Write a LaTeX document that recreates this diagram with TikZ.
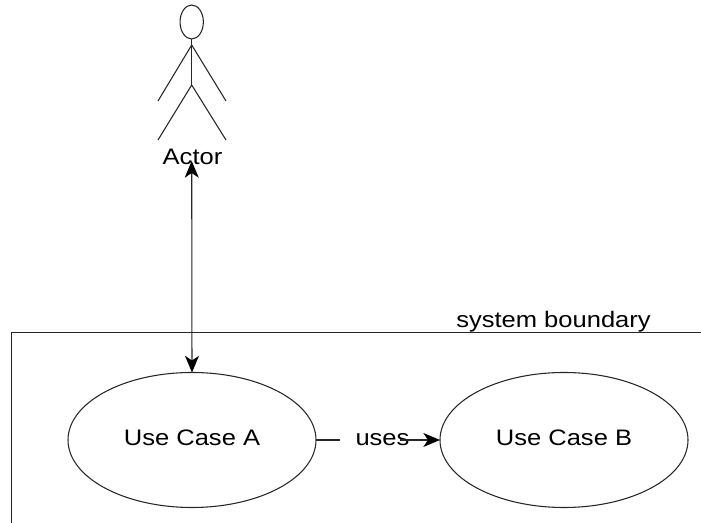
\documentclass[tikz,border=0pt]{standalone}
\usepackage{fontspec}
\setmainfont[FakeStretch=1.14]{Liberation Sans}
\usetikzlibrary{arrows.meta,shapes.geometric}
\tikzset{
  x=0.75pt,y=-0.75pt,
  line/.style={draw=black!85,line width=0.8pt},
  usecase/.style={ellipse,draw=black!85,line width=0.8pt,minimum width=186pt,minimum height=101.25pt,inner sep=0pt,outer sep=0pt},
  head/.style={ellipse,draw=black!85,line width=0.8pt,minimum width=17.5pt,minimum height=25.5pt,inner sep=0pt,outer sep=0pt},
  caption/.style={font=\fontsize{16.8pt}{18pt}\selectfont,inner sep=0pt,anchor=base},
  tip/.style={-{Stealth[black,length=12.5pt,width=10.5pt,inset=3.5pt]}},
  tips/.style={{Stealth[black,length=12.5pt,width=10.5pt,inset=3.5pt]}-{Stealth[black,length=12.5pt,width=10.5pt,inset=3.5pt]}}
}
\begin{document}
\begin{tikzpicture}
\useasboundingbox (0,0) rectangle (701,523);
% system boundary
\coordinate (bl) at (11.5,523);
\coordinate (tl) at (11.5,332.5);
\coordinate (tr) at (701,332.5);
\draw[line] (bl) -- (tl) -- (tr);
\node[caption] (sb) at (553.5,327.5) {system boundary};
% actor
\node[head] (hd) at (191.7,22) {};
\coordinate (neck) at (191.7,45);
\coordinate (hip) at (191.7,85);
\coordinate (la) at (158,101);
\coordinate (ra) at (226,101);
\coordinate (ll) at (158,140);
\coordinate (rl) at (226,140);
\draw[line] (hd.south) -- (hip);
\draw[line] (la) -- (neck) -- (ra);
\draw[line] (ll) -- (hip) -- (rl);
\node[caption] (actor) at (192.5,165) {Actor};
\coordinate (port) at (191.7,161);
% use cases
\node[usecase] (A) at (192,440) {};
\node[usecase] (B) at (564,440) {};
\node[caption] (ta) at (192,446) {Use Case A};
\node[caption] (tb) at (564,446) {Use Case B};
\node[caption] (uses) at (382.5,445.5) {uses};
\coordinate (g1) at (340,440);
\coordinate (g2) at (400,440);
\draw[line,tips] (port) -- (A.north);
\draw[line] (A.east) -- (g1);
\draw[line,tip] (g2) -- (B.west);
\end{tikzpicture}
\end{document}
